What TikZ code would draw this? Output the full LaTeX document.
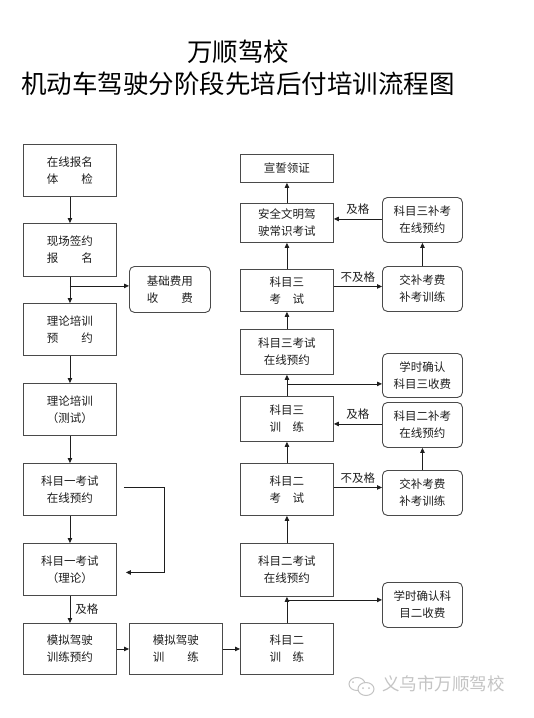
\documentclass[tikz,border=0pt]{standalone}
\usepackage{fontspec}
\setmainfont{Noto Sans CJK SC}
\usetikzlibrary{arrows.meta}
\definecolor{ink}{HTML}{1E1E1E}
\definecolor{frame}{HTML}{4A4A4A}
\definecolor{wmGray}{HTML}{C4C4C4}

\begin{document}
\begin{tikzpicture}[
  x=1pt, y=-1pt,
  stagebox/.style={
    draw=frame,
    line width=0.9pt,
    fill=white,
    inner sep=0pt,
    align=center,
    anchor=north west,
    text=ink,
    font=\fontsize{11.5}{17}\selectfont,
    minimum width=93pt
  },
  feebox/.style={
    stagebox,
    rounded corners=5pt,
    minimum width=80pt
  },
  flow/.style={
    draw=ink,
    line width=0.8pt,
    -{Triangle[length=5pt,width=4.5pt]}
  },
  tag/.style={
    font=\fontsize{11.5}{14}\selectfont,
    text=ink,
    inner sep=1pt
  }
]
\useasboundingbox[fill=white] (0,0) rectangle (534,718);

\node[font=\fontsize{25.5}{30}\selectfont, text=black] (title) at (238,52) {万顺驾校};
\node[font=\fontsize{25.5}{30}\selectfont, text=black] (subtitle) at (238,84) {机动车驾驶分阶段先培后付培训流程图};

\node[stagebox, minimum height=52pt] (reg) at (23,144) {在线报名\\体\hspace{2em}检};
\node[stagebox, minimum height=53pt] (sign) at (23,223) {现场签约\\报\hspace{2em}名};
\node[stagebox, minimum height=52pt] (theobook) at (23,303) {理论培训\\预\hspace{2em}约};
\node[stagebox, minimum height=52pt] (theotest) at (23,383) {理论培训\\（测试）};
\node[stagebox, minimum height=52pt] (kOnebook) at (23,463) {科目一考试\\在线预约};
\node[stagebox, minimum height=52pt] (kOneexam) at (23,543) {科目一考试\\（理论）};
\node[stagebox, minimum height=51pt] (simbook) at (23,623) {模拟驾驶\\训练预约};
\node[stagebox, minimum height=51pt] (simtrain) at (129,623) {模拟驾驶\\训\hspace{2em}练};
\node[stagebox, minimum height=51pt] (kTwotrain) at (240,623) {科目二\\训\hspace{1em}练};

\node[stagebox, minimum height=53pt] (kTwobook) at (240,543) {科目二考试\\在线预约};
\node[stagebox, minimum height=52pt] (kTwoexam) at (240,463) {科目二\\考\hspace{1em}试};
\node[stagebox, minimum height=45pt] (kThreetrain) at (240,396) {科目三\\训\hspace{1em}练};
\node[stagebox, minimum height=45pt] (kThreebook) at (240,329) {科目三考试\\在线预约};
\node[stagebox, minimum height=42pt] (kThreeexam) at (240,269) {科目三\\考\hspace{1em}试};
\node[stagebox, minimum height=39pt] (safety) at (240,203) {安全文明驾\\驶常识考试};
\node[stagebox, minimum height=28pt] (oath) at (240,154) {宣誓领证};

\node[feebox, minimum width=81pt, minimum height=46pt] (basefee) at (129,266) {基础费用\\收\hspace{2em}费};
\node[feebox, minimum height=45pt] (kThreeretry) at (382,197) {科目三补考\\在线预约};
\node[feebox, minimum height=45pt] (kThreefee) at (382,266) {交补考费\\补考训练};
\node[feebox, minimum height=44pt] (kThreepay) at (382,353) {学时确认\\科目三收费};
\node[feebox, minimum height=45pt] (kTworetry) at (382,402) {科目二补考\\在线预约};
\node[feebox, minimum height=45pt] (kTwofee) at (382,470) {交补考费\\补考训练};
\node[feebox, minimum height=45pt] (kTwopay) at (382,582) {学时确认科\\目二收费};

\draw[flow] (reg) -- (sign);
\draw[flow] (sign) -- (theobook);
\coordinate (forkBase) at ([yshift=-9pt]sign.south);
\draw[flow] (forkBase) -- (forkBase -| basefee.west);
\draw[flow] (theobook) -- (theotest);
\draw[flow] (theotest) -- (kOnebook);
\draw[flow] (kOnebook) -- (kOneexam);
\draw[flow] ([xshift=7pt,yshift=2pt]kOnebook.east) -- ++(40,0) |- ([xshift=9pt,yshift=-3pt]kOneexam.east);
\draw[flow] (kOneexam) -- node[tag, right=4pt] {及格} (simbook);
\draw[flow] (simbook) -- (simtrain);
\draw[flow] (simtrain) -- (kTwotrain);

\draw[flow] (kTwotrain) -- (kTwobook);
\coordinate (forkTwo) at ([yshift=-3pt]kTwobook.south);
\draw[flow] (forkTwo) -- (forkTwo -| kTwopay.west);
\draw[flow] (kTwobook) -- (kTwoexam);
\draw[flow] ([yshift=2pt]kTwoexam.east) -- node[tag, above=3pt] {不及格} ([yshift=2pt]kTwoexam.east -| kTwofee.west);
\draw[flow] (kTwofee) -- (kTworetry);
\draw[flow] ([yshift=1pt]kTworetry.west) -- node[tag, above=3pt] {及格} ([yshift=1pt]kTworetry.west -| kThreetrain.east);
\draw[flow] (kTwoexam) -- (kThreetrain);

\draw[flow] (kThreetrain) -- (kThreebook);
\coordinate (forkThree) at ([yshift=-9pt]kThreebook.south);
\draw[flow] (forkThree) -- (forkThree -| kThreepay.west);
\draw[flow] (kThreebook) -- (kThreeexam);
\draw[flow] ([yshift=4pt]kThreeexam.east) -- node[tag, above=3pt] {不及格} ([yshift=4pt]kThreeexam.east -| kThreefee.west);
\draw[flow] (kThreefee) -- (kThreeretry);
\draw[flow] ([yshift=1pt]kThreeretry.west) -- node[tag, above=3pt] {及格} ([yshift=1pt]kThreeretry.west -| safety.east);
\draw[flow] (kThreeexam) -- (safety);
\draw[flow] (safety) -- (oath);

\draw[wmGray, line width=1pt] (357,684) ellipse (8 and 6.5);
\draw[wmGray, line width=1pt, fill=white] (366,689) ellipse (8 and 6.5);
\fill[wmGray] (363,688) circle (1) (369,688) circle (1) (353,682) circle (1);
\node[font=\fontsize{17.5}{20}\selectfont, text=wmGray, anchor=west, inner sep=0pt] (watermark) at (382,684) {义乌市万顺驾校};
\end{tikzpicture}
\end{document}
